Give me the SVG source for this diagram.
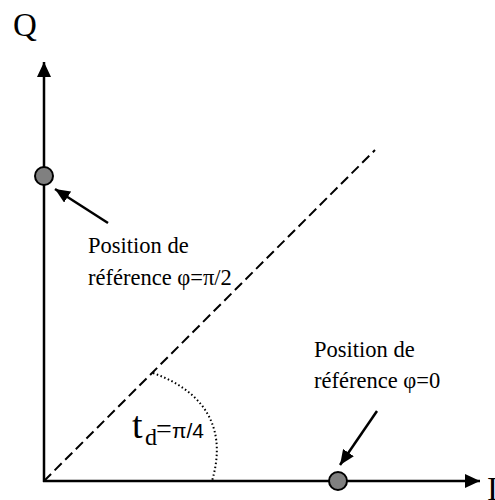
<svg xmlns="http://www.w3.org/2000/svg" width="495" height="500" viewBox="0 0 495 500">
<style>
.ax{stroke:#000;stroke-width:2.5;fill:none}
.ln{stroke:#000;stroke-width:2.5;fill:none}
.pt{fill:#808080;stroke:#000;stroke-width:2}
.t{font-family:"Liberation Serif","Times New Roman",serif;fill:#000}
</style>
<defs>
<marker id="ah" markerUnits="userSpaceOnUse" markerWidth="16" markerHeight="14" refX="15" refY="7" orient="auto">
<path d="M0,0 L15,7 L0,14 Z" fill="#000"/>
</marker>
<marker id="sh" markerUnits="userSpaceOnUse" markerWidth="16" markerHeight="14" refX="15" refY="6.5" orient="auto">
<path d="M0,0 L15,6.5 L0,13 Z" fill="#000"/>
</marker>
</defs>
<rect width="495" height="500" fill="#fff"/>
<g id="connectors">
<line class="ax" x1="44" y1="482" x2="44" y2="62" marker-end="url(#ah)"/>
<line class="ax" x1="43" y1="481" x2="480" y2="481" marker-end="url(#ah)"/>
<line x1="44" y1="481" x2="375" y2="150" stroke="#000" stroke-width="2" stroke-dasharray="10,5"/>
<path d="M153,373 C195,388 230,420 212,481" stroke="#000" stroke-width="2" stroke-dasharray="1.5,2.5" fill="none"/>
<line class="ln" x1="108" y1="223" x2="55" y2="189" marker-end="url(#sh)"/>
<line class="ln" x1="377" y1="411" x2="340" y2="465" marker-end="url(#sh)"/>
</g>
<g id="axisQ"><text class="t" x="13" y="36" font-size="33">Q</text></g>
<g id="axisI"><text class="t" x="487" y="500" font-size="33">I</text></g>
<g id="pointQ"><circle class="pt" cx="44" cy="176" r="9"/></g>
<g id="pointI"><circle class="pt" cx="338" cy="481" r="9"/></g>
<g id="labelQ">
<text class="t" x="88" y="253" font-size="22.5">Position de</text>
<text class="t" x="88" y="285" font-size="22.5">référence φ=π/2</text>
</g>
<g id="labelI">
<text class="t" x="314" y="357" font-size="22.5">Position de</text>
<text class="t" x="314" y="388" font-size="22.5">référence φ=0</text>
</g>
<g id="angle">
<text class="t" x="132" y="438" font-size="38">t</text>
<text class="t" x="145" y="445" font-size="24">d</text>
<text class="t" x="156" y="438" font-size="28">=</text>
<text x="172" y="438" font-size="21" font-family="'Liberation Sans',Arial,sans-serif">π/4</text>
</g>
</svg>
